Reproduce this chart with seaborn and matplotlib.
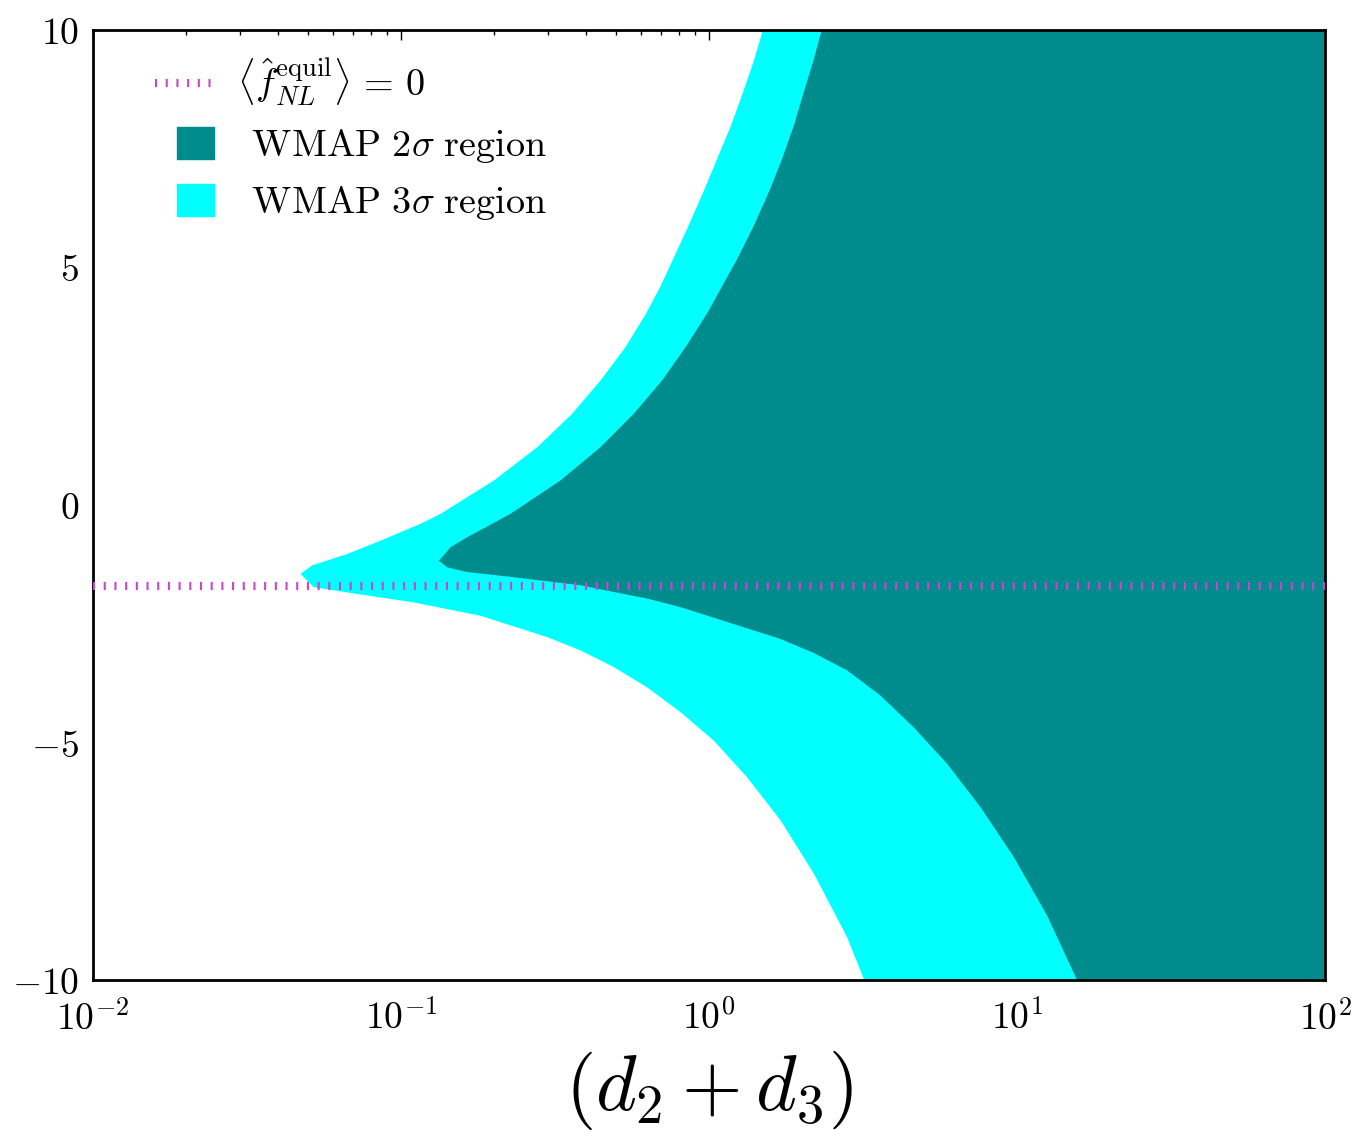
import numpy as np
import pandas as pd
import seaborn as sns
import matplotlib
matplotlib.use('Agg')
import matplotlib.pyplot as plt
from matplotlib.patches import Patch, Rectangle
from matplotlib.lines import Line2D
from matplotlib.legend_handler import HandlerPatch

# left edge of the WMAP 3 sigma region: y value and log10(d2+d3)
y_3sig = [-10, -9.09, -7.75, -6.63, -5.72, -4.95, -4.35, -3.83, -3.40, -3.05,
          -2.77, -2.32, -2.04, -1.83, -1.72, -1.44, -1.26, -1.02, -0.74, -0.385,
          -0.175, 0.526, 1.227, 1.93, 2.63, 3.33, 4.04, 4.6, 5.19, 5.89, 6.60,
          7.30, 8.0, 8.70, 9.40, 10]
logx_3sig = [0.503, 0.447, 0.339, 0.231, 0.122, 0.014, -0.094, -0.202, -0.311, -0.419,
             -0.527, -0.744, -0.960, -1.176, -1.285, -1.328, -1.290, -1.176, -1.068, -0.938,
             -0.873, -0.700, -0.559, -0.446, -0.354, -0.273, -0.206, -0.160, -0.118, -0.068,
             -0.020, 0.025, 0.070, 0.109, 0.146, 0.173]

# left edge of the WMAP 2 sigma region
y_2sig = [-10, -8.63, -7.40, -6.35, -5.44, -4.67, -4.0, -3.47, -3.105, -2.81,
          -2.14, -1.96, -1.68, -1.51, -1.40, -1.30, -1.16, -1.05, -0.88, -0.67,
          -0.175, 0.526, 1.227, 1.93, 2.63, 3.33, 4.04, 5.19, 5.89, 6.60,
          7.30, 8.0, 8.70, 9.40, 10]
logx_2sig = [1.194, 1.096, 0.988, 0.880, 0.772, 0.663, 0.555, 0.447, 0.339, 0.231,
             -0.094, -0.202, -0.419, -0.635, -0.787, -0.852, -0.879, -0.863, -0.841, -0.787,
             -0.646, -0.484, -0.354, -0.246, -0.154, -0.078, -0.008, 0.090, 0.144, 0.193,
             0.236, 0.274, 0.306, 0.339, 0.364]

fnl_zero = -1.7
x_range = [1e-2, 1e2]

xtick_vals = [1e-2, 1e-1, 1e0, 1e1, 1e2]
xtick_labels = [r'$10^{-2}$', r'$10^{-1}$', r'$10^{0}$', r'$10^{1}$', r'$10^{2}$']
ytick_vals = [-10, -5, 0, 5, 10]
ytick_labels = [r'$-10$', r'$-5$', r'$0$', r'$5$', r'$10$']

sns.set_style('white')
plt.rcParams['mathtext.fontset'] = 'cm'
plt.rcParams['font.family'] = ['DejaVu Serif']
plt.rcParams['lines.scale_dashes'] = False
plt.rcParams['text.color'] = 'black'
plt.rcParams['axes.labelcolor'] = 'black'

teal = '#008c8c'
cyan = '#00ffff'
mag = '#cc44cc'

fig = plt.figure(figsize=(13.53, 11.3), dpi=100)
ax = fig.add_axes([0.0687, 0.1327, 0.9106, 0.8408])

df3 = pd.DataFrame({'y': y_3sig, 'x': 10 ** np.array(logx_3sig)})
df2 = pd.DataFrame({'y': y_2sig, 'x': 10 ** np.array(logx_2sig)})
ax.fill_betweenx(df3['y'], df3['x'], x_range[1], color=cyan, lw=0, zorder=1)
ax.fill_betweenx(df2['y'], df2['x'], x_range[1], color=teal, lw=0, zorder=2)

line_df = pd.DataFrame({'x': x_range, 'y': [fnl_zero, fnl_zero]})
sns.lineplot(data=line_df, x='x', y='y', ax=ax, color=mag, lw=5.8,
             linestyle=(0, (1.5, 6.2)), zorder=3)

ax.set_xscale('log')
ax.set_xlim(x_range)
ax.set_ylim(-10, 10)
ax.set_xticks(xtick_vals, xtick_labels)
ax.set_yticks(ytick_vals, ytick_labels)
ax.tick_params(which='both', direction='in', top=True, right=True, labelsize=27,
               colors='black')
ax.tick_params(which='major', length=7, width=1)
ax.tick_params(which='minor', length=3.5, width=1)
ax.tick_params(axis='x', pad=15)
ax.tick_params(axis='y', pad=10)
for s in ax.spines.values():
    s.set_linewidth(2)
    s.set_color('black')
ax.set_xlabel(r'$(d_2+d_3)$', fontsize=56, labelpad=8, color='black')
ax.set_ylabel('')


def small_box(legend, orig_handle, xdescent, ydescent, width, height, fontsize):
    return Rectangle((-xdescent + 0.38 * width, -ydescent - 0.1 * height),
                     0.62 * width, 1.2 * height)


handles = [
    Line2D([], [], color=mag, lw=5.8, linestyle=(0, (1.5, 6.2))),
    Patch(color=teal),
    Patch(color=cyan),
]
labels = [r'$\langle \hat{f}_{NL}^{\rm equil}\rangle \,=\, 0$',
          r'$\;\,\mathrm{WMAP\ 2}\sigma\ \mathrm{region}$',
          r'$\;\,\mathrm{WMAP\ 3}\sigma\ \mathrm{region}$']
ax.legend(handles, labels, loc='upper left', bbox_to_anchor=(0.05, 0.972),
          frameon=False, fontsize=27.5, handlelength=1.55, handletextpad=0.6,
          labelspacing=0.5, borderpad=0, borderaxespad=0,
          handler_map={Patch: HandlerPatch(patch_func=small_box)})

fig.savefig('out.png', dpi=100)
